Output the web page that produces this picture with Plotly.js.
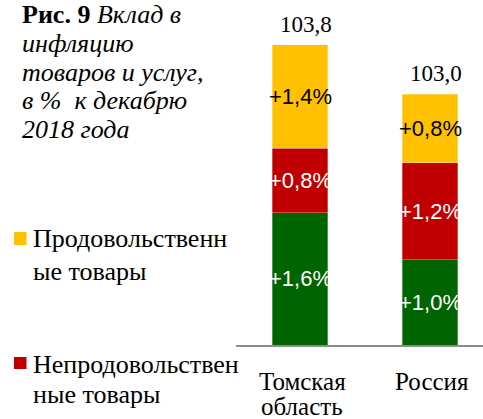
<!DOCTYPE html>
<html>
<head>
<meta charset="utf-8">
<script src="https://cdn.plot.ly/plotly-3.0.1.min.js"></script>
<style>html,body{margin:0;padding:0;background:#fff;}#chart{width:483px;height:419px;}</style>
</head>
<body>
<div id="chart"></div>
<script>
// ---- data ----
const categories = ['Томская область', 'Россия'];
const categoryLines = [['Томская', 'область'], ['Россия']];
const seriesNames = ['Услуги', 'Непродовольственные товары', 'Продовольственные товары'];
const servicesVals = [1.61, 1.04];
const nonFoodVals = [0.79, 1.18];
const foodVals = [1.26, 0.84];
const servicesLabels = ['+1,6%', '+1,0%'];
const nonFoodLabels = ['+0,8%', '+1,2%'];
const foodLabels = ['+1,4%', '+0,8%'];
const totalLabels = ['103,8', '103,0'];
const legendLines = [['Продовольственн', 'ые товары'], ['Непродовольствен', 'ные товары']];
const titleLines = ['<b>Рис. 9</b> <i>Вклад в</i>', '<i>инфляцию</i>', '<i>товаров и услуг,</i>', '<i>в %  к декабрю</i>', '<i>2018 года</i>'];

const colors = ['#006400', '#C00000', '#FFC000'];
const SERIF = "'Liberation Serif', 'Times New Roman', serif";
const SANS = "'Liberation Sans', Arial, sans-serif";
const W = 483, H = 419;
const px = v => v / W, py = v => 1 - v / H;

const xIdx = categories.map((c, i) => i);
const stacks = [servicesVals, nonFoodVals, foodVals];
const labels = [servicesLabels, nonFoodLabels, foodLabels];
const labelColors = ['#ffffff', '#ffffff', '#000000'];

const traces = stacks.map((vals, k) => ({
  type: 'bar', x: xIdx, y: vals, name: seriesNames[k],
  marker: {color: colors[k], line: {color: 'rgba(255,255,255,0.5)', width: 0.6}},
  width: 0.43, hoverinfo: 'none', showlegend: false
}));

const annotations = [];
xIdx.forEach(i => {
  let base = 0;
  stacks.forEach((vals, k) => {
    annotations.push({
      x: i, y: base + vals[i] / 2, xref: 'x', yref: 'y', showarrow: false,
      text: labels[k][i], font: {family: SANS, size: 22, color: labelColors[k]}
    });
    base += vals[i];
  });
  annotations.push({
    x: i, y: base, xref: 'x', yref: 'y', showarrow: false, yanchor: 'bottom',
    xshift: 6, yshift: 6, text: totalLabels[i],
    font: {family: SERIF, size: 23, color: '#000'}
  });
  // category labels under the axis
  const tickY = [381, 406];
  categoryLines[i].forEach((t, l) => {
    annotations.push({
      x: i, y: py(tickY[l]), xref: 'x', yref: 'paper', showarrow: false, yanchor: 'middle',
      xshift: 2, borderpad: 0, text: t, font: {family: SERIF, size: 25, color: '#000'}
    });
  });
});

const titleY = [15, 43.5, 72, 100.5, 129];
titleLines.forEach((t, l) => {
  annotations.push({
    x: px(21), y: py(titleY[l]), xref: 'paper', yref: 'paper', xanchor: 'left', yanchor: 'middle',
    align: 'left', showarrow: false, borderpad: 0, text: t,
    font: {family: SERIF, size: 26, color: '#000'}
  });
});

const legendTextY = [[239, 271], [364, 394]];
const legendBoxY = [[232, 245], [357, 369]];
const shapes = [];
legendLines.forEach((lines, j) => {
  lines.forEach((t, l) => {
    annotations.push({
      x: px(32), y: py(legendTextY[j][l]), xref: 'paper', yref: 'paper', xanchor: 'left', yanchor: 'middle',
      align: 'left', showarrow: false, borderpad: 0, text: t,
      font: {family: SERIF, size: 26, color: '#000'}
    });
  });
  shapes.push({
    type: 'rect', xref: 'paper', yref: 'paper',
    x0: px(14), x1: px(26.5), y0: py(legendBoxY[j][1]), y1: py(legendBoxY[j][0]),
    fillcolor: colors[2 - j], line: {width: 0}
  });
});

const layout = {
  width: W, height: H, barmode: 'stack',
  margin: {l: 0, r: 0, t: 0, b: 0},
  paper_bgcolor: '#fff', plot_bgcolor: '#fff',
  xaxis: {
    domain: [236 / W, 1], range: [-0.4923, 1.4077],
    tickvals: xIdx, ticktext: categories, showticklabels: false,
    showgrid: false, zeroline: false,
    showline: true, linecolor: '#8c8c8c', linewidth: 2, ticks: ''
  },
  yaxis: {
    domain: [74 / H, 399 / H], range: [0, 325 / 82],
    visible: false, showgrid: false, zeroline: false
  },
  annotations: annotations, shapes: shapes, showlegend: false
};

Plotly.newPlot('chart', traces, layout, {staticPlot: true, displayModeBar: false});
</script>
</body>
</html>
